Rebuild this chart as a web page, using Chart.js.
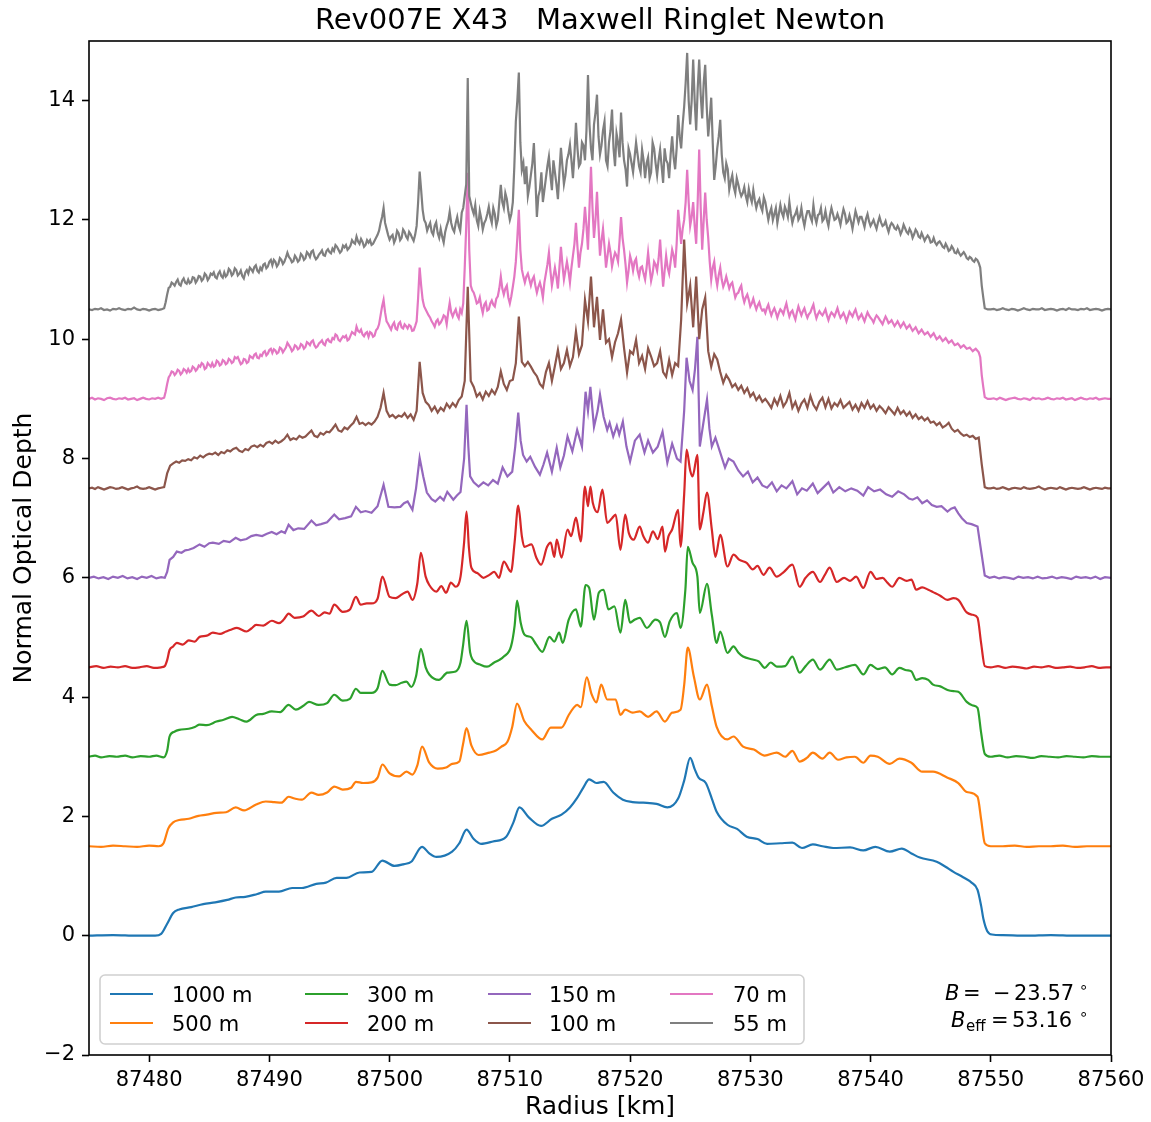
<!DOCTYPE html>
<html><head><meta charset="utf-8">
<script src="https://cdn.jsdelivr.net/npm/chart.js@4.4.0/dist/chart.umd.min.js"></script>
<style>html,body{margin:0;padding:0;background:#fff;}#wrap{width:1151px;height:1122px;}canvas{display:block;}</style>
</head><body><div id="wrap"><canvas id="c" width="1151" height="1122"></canvas></div>
<script>
const FONT = '"DejaVu Sans", sans-serif';
const chartTitle = 'Rev007E X43   Maxwell Ringlet Newton';
const xLabel = 'Radius [km]';
const yLabel = 'Normal Optical Depth';
const xTicks = [87480, 87490, 87500, 87510, 87520, 87530, 87540, 87550, 87560];
const yTicks = [-2, 0, 2, 4, 6, 8, 10, 12, 14];
const resolutions = ['1000 m', '500 m', '300 m', '200 m', '150 m', '100 m', '70 m', '55 m'];
const colors = ['#1f77b4', '#ff7f0e', '#2ca02c', '#d62728', '#9467bd', '#8c564b', '#e377c2', '#7f7f7f'];
const annotB = '23.57';
const annotBeff = '53.16';

// [radius km, tau] pairs
const s1000 = [[87475,0],[87477,0.01],[87479,0],[87480.5,0],[87481,0.03],[87481.5,0.2],[87482,0.38],[87482.5,0.44],[87483.5,0.48],[87484.5,0.53],[87485.5,0.56],[87486.5,0.6],[87487.2,0.64],[87488,0.65],[87489,0.7],[87489.7,0.74],[87490.8,0.74],[87491.9,0.8],[87492.7,0.8],[87493.9,0.87],[87494.7,0.89],[87495.6,0.97],[87496.4,0.97],[87497.5,1.06],[87498.5,1.07],[87499.4,1.26],[87500.4,1.17],[87501.2,1.2],[87501.8,1.24],[87502.7,1.49],[87503.3,1.38],[87503.9,1.32],[87505.2,1.41],[87505.8,1.55],[87506.4,1.78],[87507,1.62],[87507.6,1.54],[87508.6,1.58],[87509.7,1.66],[87510.3,1.9],[87510.8,2.15],[87511.6,1.98],[87512.6,1.84],[87513.5,1.96],[87514.3,2.03],[87515,2.15],[87515.6,2.31],[87516.1,2.48],[87516.6,2.62],[87517.2,2.56],[87517.8,2.58],[87518.6,2.4],[87519.4,2.28],[87520.2,2.24],[87521.1,2.23],[87522.2,2.21],[87523.1,2.15],[87524,2.3],[87524.5,2.6],[87525,2.98],[87525.4,2.78],[87525.7,2.65],[87526.3,2.56],[87526.8,2.3],[87527.2,2.08],[87528.1,1.86],[87528.9,1.79],[87529.7,1.66],[87530.6,1.62],[87531.4,1.54],[87532.5,1.55],[87533.5,1.56],[87534.3,1.47],[87535.2,1.53],[87536,1.5],[87536.9,1.47],[87538.3,1.48],[87539.4,1.43],[87540.4,1.49],[87541.6,1.41],[87542.6,1.46],[87543.4,1.38],[87544.1,1.31],[87545.5,1.24],[87546.2,1.16],[87546.9,1.07],[87547.7,0.98],[87548.4,0.89],[87548.9,0.77],[87549.2,0.5],[87549.4,0.27],[87549.7,0.08],[87550.1,0.02],[87551,0.01],[87553,0],[87555,0.01],[87557,0],[87560,0]];

const s500 = [[87475,1.5],[87476,1.49],[87477,1.51],[87478,1.5],[87479,1.49],[87480,1.51],[87480.8,1.5],[87481.2,1.55],[87481.6,1.8],[87482,1.9],[87482.5,1.94],[87483.3,1.96],[87484.1,2.01],[87484.8,2.03],[87485.6,2.06],[87486.4,2.07],[87487.2,2.15],[87487.9,2.1],[87488.9,2.2],[87489.7,2.25],[87490.4,2.24],[87491,2.23],[87491.6,2.33],[87492.1,2.3],[87492.7,2.28],[87493.5,2.4],[87494.1,2.36],[87494.8,2.4],[87495.4,2.5],[87496.1,2.45],[87496.8,2.48],[87497.2,2.58],[87497.8,2.56],[87498.5,2.57],[87499,2.65],[87499.4,2.87],[87500,2.72],[87500.8,2.67],[87501.4,2.75],[87501.9,2.7],[87502.3,2.85],[87502.7,3.17],[87503.3,2.9],[87504,2.8],[87504.7,2.82],[87505.2,2.88],[87505.8,2.92],[87506.1,3.2],[87506.4,3.48],[87506.8,3.19],[87507.4,3.03],[87508.3,3.07],[87508.8,3.1],[87509.3,3.17],[87509.8,3.25],[87510.2,3.5],[87510.6,3.89],[87511.2,3.6],[87511.8,3.45],[87512.7,3.29],[87513.4,3.49],[87514.3,3.49],[87514.9,3.7],[87515.3,3.82],[87515.6,3.87],[87515.9,3.83],[87516.4,4.33],[87516.8,4.05],[87517.2,3.91],[87517.6,4.21],[87518.1,3.96],[87518.8,3.96],[87519.2,3.7],[87519.6,3.79],[87520.2,3.74],[87520.8,3.76],[87521.5,3.67],[87522.2,3.76],[87522.9,3.59],[87523.5,3.74],[87524.2,3.79],[87524.5,4.2],[87524.8,4.83],[87525.3,4.35],[87525.8,3.96],[87526.4,4.21],[87526.8,3.85],[87527.2,3.5],[87528.1,3.29],[87528.6,3.34],[87529.4,3.17],[87530.3,3.12],[87531.2,3.02],[87532.2,3.07],[87532.9,3],[87533.5,3.1],[87534.1,2.92],[87534.7,2.98],[87535.2,3.07],[87536,2.97],[87536.6,3.07],[87537.3,2.95],[87538,2.99],[87538.7,3],[87539.4,2.9],[87540,3.02],[87540.6,3],[87541.6,2.88],[87542.4,2.97],[87543.4,2.9],[87544.3,2.75],[87545.2,2.75],[87546.4,2.65],[87547.3,2.56],[87548,2.41],[87548.9,2.33],[87549.2,1.95],[87549.5,1.55],[87550,1.5],[87551,1.5],[87552,1.51],[87553,1.49],[87554,1.5],[87555,1.5],[87556,1.51],[87557,1.49],[87558,1.5],[87559,1.5],[87560,1.5]];

const s300 = [[87475,3],[87475.5,3.02],[87476,2.99],[87476.7,3.01],[87477.3,3],[87478,3.02],[87478.6,2.99],[87479.3,3.01],[87480,3],[87480.6,3.02],[87481.2,2.99],[87481.5,3.1],[87481.7,3.34],[87482.1,3.42],[87482.5,3.45],[87483.3,3.47],[87483.8,3.5],[87484.2,3.54],[87484.8,3.53],[87485.6,3.59],[87486.2,3.62],[87486.9,3.67],[87487.5,3.63],[87488.1,3.59],[87488.9,3.7],[87489.5,3.72],[87490.2,3.76],[87490.9,3.75],[87491.6,3.87],[87492.2,3.79],[87492.8,3.85],[87493.3,3.92],[87494.1,3.87],[87494.8,3.9],[87495.4,4.04],[87496.1,3.94],[87496.7,3.97],[87497.2,4.14],[87497.6,4.07],[87498.5,4.07],[87499,4.15],[87499.4,4.44],[87500,4.21],[87500.5,4.2],[87501,4.24],[87501.4,4.26],[87501.8,4.17],[87502.2,4.35],[87502.6,4.81],[87503,4.5],[87503.3,4.38],[87504.1,4.29],[87504.8,4.41],[87505.5,4.43],[87505.9,4.58],[87506.1,4.85],[87506.4,5.28],[87506.7,4.75],[87506.9,4.63],[87507.6,4.54],[87508.1,4.51],[87508.7,4.58],[87509.1,4.62],[87509.5,4.68],[87510.1,4.85],[87510.4,5.2],[87510.6,5.62],[87510.9,5.25],[87511.2,5.05],[87511.5,5.02],[87511.8,5],[87512.2,4.88],[87512.7,4.76],[87513.3,5.01],[87513.7,4.93],[87514.1,5.08],[87514.4,4.91],[87514.9,5.3],[87515.5,5.47],[87515.9,5.18],[87516.3,5.88],[87516.6,5.83],[87517,5.3],[87517.4,5.75],[87517.8,5.8],[87518.2,5.47],[87518.7,5.52],[87519.2,5.08],[87519.6,5.63],[87520,5.25],[87520.4,5.3],[87520.8,5.33],[87521.4,5.16],[87522.1,5.3],[87522.5,5.25],[87522.9,5.01],[87523.3,5.27],[87523.9,5.41],[87524.2,5.16],[87524.6,5.8],[87524.8,6.52],[87525.2,6.25],[87525.6,6.02],[87525.8,5.41],[87526.4,5.9],[87526.8,5.38],[87527.2,4.91],[87527.5,5.1],[87528.1,4.74],[87528.6,4.85],[87529,4.75],[87529.4,4.68],[87530.2,4.63],[87530.7,4.6],[87531.2,4.49],[87531.7,4.58],[87532.2,4.51],[87532.9,4.52],[87533.5,4.68],[87534.1,4.41],[87534.6,4.52],[87535.2,4.63],[87535.8,4.46],[87536.6,4.63],[87537.2,4.46],[87537.9,4.5],[87538.7,4.54],[87539.4,4.38],[87540,4.54],[87540.6,4.47],[87541.2,4.5],[87541.8,4.38],[87542.4,4.49],[87543,4.45],[87543.4,4.43],[87543.8,4.29],[87544.3,4.32],[87544.8,4.29],[87545.2,4.21],[87545.8,4.18],[87546.4,4.12],[87546.9,4.1],[87547.3,4.09],[87548,3.92],[87548.5,3.86],[87548.9,3.82],[87549.2,3.4],[87549.5,3.05],[87550,3],[87550.7,3.02],[87551.4,2.99],[87552.1,3.01],[87552.8,3],[87553.5,2.98],[87554.2,3.01],[87554.9,3],[87555.6,2.99],[87556.3,3.01],[87557,3],[87557.7,2.99],[87558.4,3.01],[87559.1,3],[87560,3]];

const s200 = [[87475,4.5],[87475.6,4.52],[87476.2,4.49],[87476.8,4.51],[87477.4,4.5],[87478,4.52],[87478.6,4.49],[87479.2,4.5],[87479.8,4.52],[87480.4,4.49],[87481,4.5],[87481.3,4.52],[87481.5,4.62],[87481.7,4.79],[87482,4.85],[87482.3,4.91],[87482.8,4.88],[87483.3,4.95],[87483.8,4.93],[87484.2,5.01],[87484.8,5.03],[87485.3,5.08],[87485.9,5.06],[87486.4,5.1],[87486.8,5.13],[87487.3,5.16],[87488.1,5.1],[87488.5,5.15],[87488.9,5.21],[87489.5,5.2],[87490.2,5.28],[87490.8,5.24],[87491.2,5.3],[87491.6,5.4],[87492.1,5.33],[87492.8,5.35],[87493.5,5.45],[87494.1,5.36],[87494.6,5.42],[87495,5.4],[87495.4,5.55],[87496.1,5.43],[87496.7,5.47],[87497.2,5.68],[87497.6,5.55],[87498.1,5.57],[87498.5,5.57],[87499,5.65],[87499.4,6.02],[87500,5.68],[87500.5,5.66],[87501,5.72],[87501.5,5.77],[87501.9,5.63],[87502.3,5.9],[87502.6,6.42],[87503,6.02],[87503.3,5.88],[87503.9,5.77],[87504.3,5.86],[87504.7,5.75],[87505.1,5.92],[87505.5,5.85],[87505.9,6.02],[87506.2,6.6],[87506.4,7.11],[87506.6,6.5],[87506.8,6.17],[87507.3,6.08],[87507.8,6],[87508.3,6.05],[87508.7,6.1],[87509.1,6],[87509.5,6.27],[87510.1,6.1],[87510.4,6.6],[87510.7,7.21],[87511,6.7],[87511.2,6.52],[87511.8,6.56],[87512.2,6.34],[87512.6,6.22],[87513.1,6.52],[87513.4,6.59],[87513.7,6.35],[87513.9,6.64],[87514.3,6.34],[87514.8,6.81],[87515.1,6.7],[87515.5,7.01],[87515.9,6.61],[87516.25,7.53],[87516.5,7.2],[87516.7,7.53],[87516.9,7.26],[87517.3,7.1],[87517.7,7.48],[87518.1,6.92],[87518.5,7],[87518.8,7.06],[87519.2,6.47],[87519.6,7.06],[87519.9,6.75],[87520.3,6.64],[87520.8,6.86],[87521.1,6.7],[87521.5,6.59],[87521.9,6.78],[87522.3,6.65],[87522.7,6.86],[87522.9,6.44],[87523.2,6.7],[87523.5,6.81],[87524,7.14],[87524.2,6.52],[87524.5,7.4],[87524.7,8.15],[87525,7.8],[87525.2,7.7],[87525.6,8.06],[87525.8,6.81],[87526.1,7.1],[87526.4,7.43],[87526.8,6.81],[87527.1,6.35],[87527.5,6.72],[87528.1,6.19],[87528.6,6.39],[87529.1,6.3],[87529.7,6.25],[87530.2,6.14],[87530.6,6.2],[87531.1,6.05],[87531.6,6.17],[87532.2,6.02],[87532.8,6.1],[87533.5,6.22],[87534.1,5.85],[87534.6,6],[87535.2,6.1],[87535.8,5.93],[87536.2,6.05],[87536.6,6.17],[87537.2,5.93],[87537.8,6],[87538.3,5.95],[87538.8,6.02],[87539.4,5.83],[87540,6.1],[87540.5,5.98],[87541,6],[87541.4,5.92],[87541.8,5.85],[87542.4,6],[87543,5.95],[87543.4,5.97],[87543.8,5.8],[87544.3,5.84],[87544.8,5.8],[87545.2,5.76],[87545.8,5.7],[87546.4,5.63],[87546.9,5.66],[87547.3,5.63],[87548,5.42],[87548.5,5.38],[87548.9,5.33],[87549.2,4.9],[87549.5,4.52],[87550,4.5],[87550.6,4.52],[87551.2,4.49],[87551.8,4.51],[87552.4,4.5],[87553,4.48],[87553.6,4.51],[87554.2,4.5],[87554.8,4.52],[87555.4,4.49],[87556,4.5],[87556.6,4.51],[87557.2,4.49],[87557.8,4.5],[87558.4,4.52],[87559,4.49],[87559.6,4.5],[87560,4.5]];

const s150 = [[87475,6],[87475.4,6.02],[87475.8,5.99],[87476.2,6.01],[87476.6,5.98],[87477,6.02],[87477.4,6],[87477.8,6.03],[87478.2,5.99],[87478.6,6.01],[87479,5.98],[87479.4,6.02],[87479.8,6],[87480.2,6.03],[87480.6,5.99],[87481,6.01],[87481.3,6],[87481.5,6.1],[87481.7,6.3],[87482,6.35],[87482.3,6.44],[87482.7,6.42],[87483,6.46],[87483.3,6.47],[87483.7,6.5],[87484.2,6.56],[87484.6,6.52],[87485,6.58],[87485.3,6.59],[87485.8,6.57],[87486.2,6.62],[87486.7,6.6],[87487.2,6.67],[87487.6,6.63],[87488.1,6.65],[87488.5,6.7],[87488.9,6.72],[87489.4,6.7],[87489.8,6.74],[87490.2,6.77],[87490.6,6.73],[87491,6.78],[87491.3,6.75],[87491.6,6.89],[87492,6.8],[87492.4,6.83],[87492.9,6.82],[87493.5,6.96],[87493.9,6.88],[87494.3,6.9],[87494.8,6.93],[87495.4,7.06],[87495.8,6.98],[87496.3,7],[87496.8,7.03],[87497.2,7.19],[87497.6,7.1],[87498,7.12],[87498.5,7.09],[87499,7.2],[87499.5,7.56],[87499.9,7.19],[87500.4,7.18],[87500.9,7.19],[87501.2,7.25],[87501.5,7.28],[87501.9,7.14],[87502.2,7.5],[87502.5,8.01],[87502.8,7.7],[87503.1,7.43],[87503.5,7.32],[87503.8,7.28],[87504.2,7.36],[87504.5,7.3],[87504.8,7.44],[87505.3,7.31],[87505.6,7.38],[87505.9,7.44],[87506.2,8],[87506.4,8.9],[87506.55,8.2],[87506.7,7.7],[87507,7.6],[87507.4,7.53],[87507.8,7.6],[87508.2,7.55],[87508.6,7.64],[87509,7.58],[87509.4,7.85],[87509.8,7.7],[87510.2,7.78],[87510.45,8.2],[87510.7,8.77],[87510.9,8.3],[87511.1,8.06],[87511.4,7.95],[87511.7,8.03],[87512.1,7.86],[87512.5,7.73],[87512.8,7.9],[87513.1,8.1],[87513.5,7.78],[87513.9,8.18],[87514.2,7.85],[87514.5,8.05],[87514.8,8.37],[87515.2,8.12],[87515.6,8.48],[87516,8.2],[87516.3,9.12],[87516.5,8.8],[87516.7,9.2],[87517,8.53],[87517.3,8.8],[87517.5,9.07],[87517.8,8.7],[87518.1,8.48],[87518.3,8.6],[87518.6,8.37],[87518.9,8.55],[87519.1,8.4],[87519.4,8.62],[87519.7,8.2],[87520,7.95],[87520.4,8.3],[87520.8,8.4],[87521.2,8.1],[87521.5,8.3],[87521.9,8.1],[87522.3,8.2],[87522.7,8.45],[87523.1,7.93],[87523.5,8.25],[87523.9,8],[87524.2,7.95],[87524.5,8.8],[87524.7,9.69],[87524.95,9.3],[87525.2,9.15],[87525.4,9.5],[87525.6,10.04],[87525.8,8.2],[87526.1,8.6],[87526.4,8.99],[87526.6,8.5],[87526.8,8.2],[87527.1,8.35],[87527.5,8.1],[87527.9,7.85],[87528.2,8],[87528.6,7.95],[87529,7.8],[87529.4,7.7],[87529.8,7.78],[87530.2,7.6],[87530.6,7.68],[87531,7.55],[87531.4,7.51],[87531.8,7.6],[87532.2,7.45],[87532.6,7.55],[87533,7.5],[87533.5,7.62],[87533.9,7.4],[87534.3,7.5],[87534.7,7.46],[87535.2,7.58],[87535.6,7.42],[87536,7.5],[87536.5,7.6],[87536.9,7.43],[87537.4,7.52],[87537.9,7.45],[87538.4,7.5],[87538.9,7.46],[87539.4,7.38],[87539.8,7.52],[87540.3,7.45],[87540.8,7.48],[87541.3,7.4],[87541.8,7.36],[87542.3,7.45],[87542.8,7.4],[87543.2,7.33],[87543.5,7.31],[87543.9,7.35],[87544.3,7.25],[87544.7,7.3],[87545.1,7.22],[87545.5,7.19],[87545.9,7.2],[87546.4,7.11],[87546.7,7.16],[87547,7.18],[87547.3,7.08],[87547.6,7],[87548,6.92],[87548.4,6.9],[87548.9,6.86],[87549.2,6.45],[87549.5,6.04],[87549.9,6],[87550.3,6.02],[87550.7,5.99],[87551.1,6.01],[87551.5,6],[87551.9,5.98],[87552.3,6.02],[87552.7,6],[87553.1,6.01],[87553.5,5.99],[87553.9,6.02],[87554.3,5.99],[87554.7,6],[87555.1,6.02],[87555.5,5.99],[87555.9,6.01],[87556.3,6],[87556.7,5.98],[87557.1,6.02],[87557.5,6],[87557.9,6.01],[87558.3,5.99],[87558.7,6.02],[87559.1,5.98],[87559.5,6.01],[87560,6]];

// fine radius grid: 87475 .. 87560 every 0.25 km (341 samples)
const fineStart = 87475, fineStep = 0.25;
const tau100 = [
7.5,7.51,7.49,7.52,7.5,7.48,7.5,7.52,7.51,7.49,7.5,7.52,7.5,7.48,7.5,7.51,7.53,7.5,7.49,7.5,7.52,7.5,7.48,7.5,7.51,
7.52,7.75,7.88,7.92, 7.95,7.93,7.97,7.96, 7.99,7.97,8.02,8.0, 8.05,8.02,8.06,8.08, 8.07,8.1,8.06,8.11,
8.09,8.14,8.12,8.16, 8.18,8.13,8.11,8.16, 8.14,8.2,8.22,8.19, 8.23,8.2,8.26,8.28, 8.25,8.3,8.26,8.29,
8.33,8.4,8.31,8.34, 8.32,8.38,8.35,8.37, 8.42,8.47,8.38,8.36, 8.43,8.4,8.45,8.44, 8.5,8.57,8.47,8.45,
8.52,8.49,8.55,8.6, 8.7,8.58,8.6,8.56, 8.6,8.57,8.62,8.7, 8.85,9.1,8.8,8.7, 8.73,8.68,8.72,8.7,
8.76,8.68,8.74,8.65, 8.8,9.62,9.1,8.95, 8.9,8.8,8.87,8.77, 8.85,8.8,8.92,8.85, 8.93,8.87,8.98,9.04,
9.3,10.88,9.3,9.2, 9.04,9.1,8.99,9.12, 9.05,9.15,9.08,9.2, 9.46,9.25,9.15,9.3, 9.32,9.6,10.38,9.62,
9.55,9.62,9.54,9.45, 9.38,9.25,9.19,9.45, 9.6,9.3,9.55,9.82, 9.5,9.6,9.82,9.55, 9.7,10.13,9.75,9.9,
10.66,10.3,11.05,10.2, 10.71,9.99,10.5,9.94, 10.0,9.7,9.95,10.1, 10.33,9.85,9.44,9.8, 9.75,9.99,9.6,9.72,
9.5,9.85,9.71,9.55, 9.6,9.8,9.45,9.37, 9.65,9.4,9.6,9.55, 10.33,11.67,10.6,10.9, 10.2,11.05,10.0,10.5,
10.7,9.8,9.54,9.75, 9.66,9.45,9.27,9.4, 9.32,9.2,9.25,9.15, 9.22,9.1,9.18,9.04, 9.1,8.98,9.05,8.95,
9.0,8.93,8.85,9.0, 8.9,9.05,8.87,8.95, 9.1,8.85,8.95,8.8, 8.92,8.99,8.85,9.05, 8.9,8.82,8.95,9.02,
8.86,9.0,8.84,8.93, 8.88,8.98,8.85,8.9, 8.95,8.82,8.9,8.8, 8.93,8.85,8.96,8.84, 8.9,8.8,8.88,8.83,
8.76,8.86,8.8,8.74, 8.85,8.75,8.8,8.72, 8.78,8.68,8.74,8.66, 8.7,8.64,8.68,8.6, 8.62,8.56,8.6,8.52,
8.55,8.6,8.5,8.45, 8.48,8.42,8.38,8.4, 8.36,8.38,8.33,8.35, 7.9,7.52,7.5,
7.5,7.51,7.49,7.5,7.52,7.5,7.48,7.5,7.51,7.5,7.49,7.52,7.5,7.49,7.5,7.51,7.53,7.5,7.48,7.5,
7.51,7.5,7.49,7.52,7.5,7.48,7.5,7.51,7.5,7.49,7.5,7.52,7.5,7.48,7.5,7.51,7.5,7.49,7.51,7.5,7.5];

const tau70 = [
9.0,9.02,8.99,9.01,9.0,8.98,9.01,9.02,9.0,8.99,9.01,9.0,9.02,8.99,9.0,9.01,8.98,9.0,9.02,9.0,8.99,9.01,9.0,9.02,9.0,
9.02,9.25,9.4,9.45, 9.43,9.47,9.44,9.48, 9.5,9.47,9.52,9.5, 9.54,9.58,9.52,9.57, 9.6,9.56,9.62,9.58,
9.63,9.6,9.65,9.62, 9.68,9.64,9.6,9.66, 9.62,9.7,9.74,9.69, 9.74,9.78,9.73,9.82, 9.77,9.81,9.78,9.84,
9.82,9.94,9.86,9.83, 9.88,9.85,9.9,9.87, 9.93,9.96,9.9,9.88, 9.95,9.92,9.98,9.96, 10.02,10.08,9.99,10.01,
10.03,9.98,10.06,10.1, 10.21,10.12,10.08,10.1, 10.04,10.1,10.06,10.18, 10.4,10.66,10.3,10.21, 10.24,10.18,10.26,10.2,
10.25,10.18,10.22,10.15, 10.3,11.2,10.66,10.5, 10.4,10.3,10.21,10.33, 10.28,10.4,10.25,10.61, 10.38,10.5,10.35,10.44,
11.2,12.79,10.9,10.78, 10.6,10.7,10.44,10.62, 10.5,10.65,10.55,10.72, 11.05,10.75,10.9,10.6, 10.88,11.3,12.17,11.17,
10.95,11.1,10.9,11.05, 10.78,10.95,10.7,11.1, 11.45,10.9,11.2,10.85, 11.55,11.0,11.3,10.95, 11.4,11.95,11.2,11.6,
12.22,11.5,12.89,11.7, 12.47,11.4,11.85,11.2, 11.6,11.22,11.45,11.3, 12.05,11.5,10.95,11.4, 11.15,11.35,11.05,11.22,
11.0,11.45,10.98,11.3, 11.15,11.67,10.88,11.4, 11.1,11.5,11.2,12.17, 11.6,12.0,12.84,11.9, 12.3,11.6,13.18,11.5,
12.46,11.7,11.0,11.3, 10.9,11.2,10.88,11.05, 10.85,10.95,10.7,10.78, 10.9,10.62,10.75,10.55, 10.68,10.5,10.62,10.48,
10.44,10.58,10.4,10.52, 10.36,10.5,10.42,10.6, 10.38,10.48,10.33,10.55, 10.4,10.52,10.36,10.45, 10.58,10.35,10.47,10.4,
10.5,10.32,10.45,10.38, 10.52,10.36,10.44,10.3, 10.46,10.38,10.5,10.34, 10.42,10.3,10.45,10.36, 10.28,10.4,10.33,10.25,
10.38,10.27,10.32,10.22, 10.3,10.2,10.28,10.18, 10.24,10.14,10.2,10.1, 10.16,10.08,10.12,10.04, 10.1,10.0,10.05,9.97,
10.02,9.94,9.98,9.9, 9.93,9.86,9.9,9.84, 9.86,9.8,9.84,9.78, 9.4,9.03,9.0,
9.0,9.01,8.99,9.02,9.0,8.98,9.0,9.01,9.02,9.0,8.99,9.01,9.0,8.98,9.02,9.0,9.01,8.99,9.0,9.02,
9.0,8.99,9.01,9.0,9.02,8.99,9.0,9.01,8.98,9.0,9.02,9.0,8.99,9.01,9.0,9.02,8.99,9.0,9.01,9.0,9.0];

const tau55 = [
10.5,10.49,10.51,10.5,10.52,10.49,10.5,10.48,10.51,10.5,10.52,10.5,10.49,10.51,10.5,10.53,10.5,10.49,10.51,10.5,10.48,10.5,10.51,10.49,10.5,
10.52,10.75,10.88,10.93, 10.96,10.92,10.98,10.95, 11.0,10.96,11.03,10.99, 11.05,11.01,11.07,11.03, 11.08,11.04,11.1,11.06,
11.12,11.08,11.15,11.1, 11.16,11.1,11.06,11.12, 11.1,11.17,11.21,11.15, 11.2,11.25,11.19,11.3, 11.24,11.3,11.26,11.33,
11.3,11.45,11.35,11.31, 11.36,11.33,11.4,11.36, 11.43,11.47,11.39,11.37, 11.45,11.41,11.48,11.46, 11.52,11.58,11.5,11.48,
11.54,11.5,11.57,11.62, 11.72,11.6,11.63,11.58, 11.62,11.58,11.65,11.75, 11.95,12.2,11.85,11.67, 11.75,11.68,11.78,11.7,
11.8,11.68,11.76,11.65, 11.9,12.81,12.17,11.95, 11.89,11.8,11.9,11.78, 11.85,11.62,11.9,12.14, 11.85,11.95,11.9,12.12,
12.4,14.38,12.29,12.1, 12.0,12.15,11.84,12.0, 12.22,11.95,12.1,12.0, 12.59,12.2,12.35,12.0, 12.3,13.65,14.47,12.84,
12.6,12.4,12.75,13.29, 12.05,12.5,12.3,12.7, 13.06,12.5,12.8,12.35, 13.21,12.6,13.0,13.26, 12.7,13.63,12.9,13.3,
13.0,14.43,13.2,13.6, 14.1,13.1,13.5,13.0, 13.3,13.85,12.9,13.3, 13.8,13.0,12.56,13.1, 12.8,13.3,12.9,13.18,
12.7,13.05,12.8,13.2, 12.75,13.18,12.62,13.0, 12.7,13.4,12.85,13.76, 13.2,13.9,14.8,13.6, 14.69,13.5,14.69,13.7,
14.6,13.4,14.05,12.67, 13.2,13.68,12.8,12.95, 12.51,12.75,12.45,12.6, 12.4,12.55,12.3,12.39, 12.5,12.2,12.35,12.15,
12.3,12.0,12.2,12.1, 11.95,12.25,12.05,12.15, 12.3,11.95,12.1,12.0, 12.2,11.9,12.15,12.05, 12.25,11.95,12.1,11.98,
12.15,11.9,12.2,12.0, 12.1,11.92,12.18,11.95, 12.08,11.85,12.15,11.96, 12.05,11.88,12.1,11.9, 12.0,11.85,12.05,11.9,
11.98,11.8,11.95,11.86, 11.9,11.76,11.92,11.8, 11.85,11.7,11.84,11.72, 11.78,11.65,11.74,11.62, 11.7,11.58,11.64,11.55,
11.6,11.48,11.56,11.45, 11.5,11.4,11.46,11.36, 11.38,11.32,11.35,11.28, 10.9,10.52,10.5,
10.5,10.51,10.49,10.5,10.52,10.5,10.49,10.51,10.5,10.48,10.5,10.52,10.5,10.49,10.51,10.5,10.5,10.52,10.49,10.5,
10.51,10.5,10.48,10.5,10.51,10.49,10.52,10.5,10.5,10.49,10.51,10.5,10.52,10.49,10.5,10.51,10.5,10.48,10.5,10.51,10.5];

// extra in-between samples for the finest profiles: 87481.375 .. 87549.375 every 0.25 km (273 samples)
const halfStart = 87481.375;
const tau70mid = [
9.12,9.36,9.46,9.4, 9.49,9.41,9.5,9.44, 9.45,9.54,9.47,9.56, 9.6,9.5,9.6,9.54, 9.54,9.64,9.56,9.65,
9.58,9.67,9.6,9.7, 9.7,9.58,9.67,9.6, 9.72,9.68,9.76,9.68, 9.72,9.8,9.76,9.84, 9.83,9.76,9.86,9.78,
9.86,9.9,9.8,9.9, 9.83,9.92,9.84,9.95, 9.9,9.98,9.86,9.93, 9.98,9.9,10.0,9.95, 10.0,10.06,9.97,10.05,
10.06,10.0,10.12,10.08, 10.14,10.16,10.05,10.12, 10.12,10.04,10.15,10.25, 10.55,10.45,10.26,10.16,
10.28,10.16,10.29,10.18, 10.22,10.24,10.14,10.22, 10.7,10.9,10.55,10.45, 10.36,10.26,10.3,10.25,
10.33,10.38,10.45,10.45, 10.45,10.4,10.5,10.6, 11.9,11.5,10.82,10.7, 10.62,10.55,10.58,10.48,
10.6,10.58,10.68,10.85, 10.85,10.85,10.7,10.72, 11.05,11.7,11.5,11.05, 11.05,11.0,11.0,10.9,
10.88,10.85,10.95,11.25, 11.15,11.05,11.05,11.2, 11.25,11.15,11.15,11.2, 11.6,11.55,11.45,11.85,
11.9,12.2,12.2,12.0, 11.9,11.65,11.55,11.4, 11.45,11.35,11.4,11.65, 11.7,11.25,11.15,11.3,
11.3,11.15,11.2,11.1, 11.2,11.2,11.1,11.25, 11.35,11.25,11.15,11.2, 11.3,11.4,11.6,11.9,
11.85,12.3,12.3,12.05, 11.9,12.3,12.2,12.0, 12.0,11.3,11.2,11.05, 11.08,11.0,10.95,10.95,
10.92,10.82,10.76,10.85, 10.72,10.7,10.66,10.6, 10.58,10.57,10.53,10.5, 10.52,10.48,10.47,10.45,
10.44,10.47,10.52,10.48, 10.45,10.4,10.45,10.47, 10.47,10.43,10.42,10.52, 10.45,10.42,10.43,10.45,
10.4,10.4,10.42,10.45, 10.43,10.4,10.38,10.38, 10.42,10.45,10.41,10.38, 10.36,10.38,10.4,10.33,
10.35,10.37,10.29,10.32, 10.33,10.29,10.27,10.26, 10.25,10.24,10.23,10.21, 10.19,10.17,10.15,10.13,
10.12,10.1,10.08,10.07, 10.05,10.02,10.01,9.99, 9.98,9.96,9.94,9.91, 9.9,9.88,9.87,9.85,
9.83,9.82,9.81,9.7, 9.2];

const tau55mid = [
10.62,10.86,10.95,10.9, 11.0,10.9,11.02,10.93, 10.94,11.04,10.95,11.06, 10.98,11.1,10.99,11.1, 11.12,11.02,11.14,11.03,
11.05,11.18,11.07,11.19, 11.07,11.15,11.02,11.16, 11.2,11.13,11.24,11.12, 11.16,11.27,11.22,11.33, 11.33,11.22,11.36,11.26,
11.37,11.38,11.29,11.4, 11.3,11.43,11.33,11.46, 11.38,11.49,11.34,11.42, 11.49,11.4,11.51,11.44, 11.48,11.55,11.45,11.57,
11.58,11.53,11.66,11.6, 11.64,11.68,11.55,11.66, 11.66,11.6,11.7,11.82, 12.05,11.95,11.75,11.72,
11.62,11.82,11.66,11.84, 11.72,11.8,11.7,11.75, 12.3,12.5,12.0,11.82, 11.95,11.75,11.96,11.7,
11.72,11.8,11.98,11.95, 11.8,12.05,11.82,12.2, 12.6,12.4,12.18,12.25, 11.9,12.02,11.95,12.1,
12.05,12.2,11.9,12.3, 12.3,12.45,12.15,12.1, 12.9,14.0,13.3,12.95, 12.9,12.55,12.95,12.7,
12.4,12.8,12.5,12.9, 12.75,13.0,12.6,12.8, 12.9,12.75,13.1,13.0, 13.1,13.2,12.95,13.25,
13.5,13.6,13.0,13.8, 13.4,13.25,13.65,12.9, 13.5,13.2,13.45,13.05, 13.3,12.85,13.2,12.95,
13.05,13.1,12.8,13.0, 12.95,12.7,13.3,12.95, 13.0,12.9,13.2,12.95, 13.1,13.05,13.2,13.4,
13.6,14.3,14.0,14.0, 14.0,14.2,14.1,14.3, 13.9,13.7,13.3,12.9, 13.4,13.1,12.7,12.85,
12.65,12.55,12.7,12.48, 12.45,12.4,12.52,12.3, 12.33,12.3,12.22,12.38, 12.15,12.12,12.0,12.2,
12.1,12.12,12.22,12.05, 12.1,12.05,12.18,12.05, 12.02,12.05,12.15,11.98, 12.05,12.08,12.2,12.02,
12.0,12.08,12.1,12.02, 12.02,12.06,12.1,11.98, 11.98,12.0,12.06,12.05, 11.97,12.02,11.98,11.95,
11.92,11.96,11.96,11.92, 11.88,11.9,11.92,11.84, 11.85,11.82,11.86,11.77, 11.8,11.76,11.8,11.7,
11.72,11.7,11.7,11.63, 11.62,11.62,11.6,11.53, 11.55,11.5,11.52,11.44, 11.44,11.43,11.42,11.34,
11.36,11.3,11.33,11.2, 10.7];

function pairsToPoints(p) { return p.map(function (q) { return { x: q[0], y: q[1] }; }); }
function gridToPoints(vals, start) { return vals.map(function (v, i) { return { x: start + i * fineStep, y: v }; }); }
function merged(a, b) { return gridToPoints(a, fineStart).concat(gridToPoints(b, halfStart)).sort(function (p, q) { return p.x - q.x; }); }

const seriesPoints = [
  pairsToPoints(s1000), pairsToPoints(s500), pairsToPoints(s300), pairsToPoints(s200),
  pairsToPoints(s150), gridToPoints(tau100, fineStart), merged(tau70, tau70mid), merged(tau55, tau55mid)
];
const smoothMode = [true, true, true, true, false, false, false, false];

const datasets = seriesPoints.map(function (pts, i) {
  return {
    label: resolutions[i], data: pts, borderColor: colors[i], backgroundColor: colors[i],
    borderWidth: 2.2, pointRadius: 0, fill: false, order: 7 - i,
    tension: 0, cubicInterpolationMode: smoothMode[i] ? 'monotone' : 'default'
  };
});

function fmtY(v) { return v < 0 ? '\u2212' + Math.abs(v) : String(v); }

const decor = {
  id: 'decor',
  afterDatasetsDraw: function (chart) {
    const ctx = chart.ctx, a = chart.chartArea;
    ctx.save();
    ctx.strokeStyle = '#000'; ctx.lineWidth = 1.6;
    ctx.strokeRect(a.left, a.top, a.right - a.left, a.bottom - a.top);
    ctx.restore();
  },
  afterDraw: function (chart) {
    const ctx = chart.ctx, a = chart.chartArea;
    ctx.save();
    ctx.fillStyle = '#000';
    ctx.font = '29px ' + FONT; ctx.textAlign = 'center'; ctx.textBaseline = 'alphabetic';
    ctx.fillText(chartTitle, (a.left + a.right) / 2, 29);
    ctx.font = '25px ' + FONT;
    ctx.fillText(xLabel, (a.left + a.right) / 2, 1114);
    ctx.save();
    ctx.translate(31, (a.top + a.bottom) / 2); ctx.rotate(-Math.PI / 2);
    ctx.fillText(yLabel, 0, 0);
    ctx.restore();

    const L = { left: 100, top: 975, right: 804, bottom: 1044, r: 5 };
    ctx.beginPath();
    ctx.moveTo(L.left + L.r, L.top);
    ctx.arcTo(L.right, L.top, L.right, L.bottom, L.r);
    ctx.arcTo(L.right, L.bottom, L.left, L.bottom, L.r);
    ctx.arcTo(L.left, L.bottom, L.left, L.top, L.r);
    ctx.arcTo(L.left, L.top, L.right, L.top, L.r);
    ctx.closePath();
    ctx.fillStyle = 'rgba(255,255,255,0.8)'; ctx.fill();
    ctx.strokeStyle = '#d0d0d0'; ctx.lineWidth = 1.6; ctx.stroke();
    const lineX = [110, 305, 488, 670], textX = [172, 367, 549, 733], rowY = [994, 1023];
    ctx.font = '21px ' + FONT; ctx.textAlign = 'left'; ctx.textBaseline = 'alphabetic';
    for (let i = 0; i < datasets.length; i++) {
      const col = Math.floor(i / 2), row = i % 2, y = rowY[row];
      ctx.strokeStyle = datasets[i].borderColor; ctx.lineWidth = 2.2;
      ctx.beginPath(); ctx.moveTo(lineX[col], y); ctx.lineTo(lineX[col] + 43, y); ctx.stroke();
      ctx.fillStyle = '#000';
      ctx.fillText(datasets[i].label, textX[col], y + 8);
    }

    ctx.fillStyle = '#000';
    ctx.font = 'italic 21px ' + FONT; ctx.fillText('B', 945, 1000);
    ctx.font = '21px ' + FONT;
    ctx.fillText('=', 963, 1000);
    ctx.fillText('\u2212', 993, 1000);
    ctx.fillText(annotB, 1014, 1000);
    ctx.font = '15px ' + FONT; ctx.fillText('\u2218', 1079, 992);
    ctx.font = 'italic 21px ' + FONT; ctx.fillText('B', 951, 1027);
    ctx.font = '15px ' + FONT; ctx.fillText('eff', 966, 1031);
    ctx.font = '21px ' + FONT;
    ctx.fillText('=', 991, 1027);
    ctx.fillText(annotBeff, 1012, 1027);
    ctx.font = '15px ' + FONT; ctx.fillText('\u2218', 1079, 1019);
    ctx.restore();
  }
};

new Chart(document.getElementById('c'), {
  type: 'line',
  data: { datasets: datasets },
  options: {
    responsive: false, animation: false, devicePixelRatio: 1,
    layout: { padding: { left: 0, right: 40, top: 41, bottom: 0 } },
    plugins: { legend: { display: false }, title: { display: false }, tooltip: { enabled: false } },
    scales: {
      x: {
        type: 'linear', min: 87475, max: 87560,
        afterFit: function (s) { s.height = 67; },
        afterBuildTicks: function (s) { s.ticks = xTicks.map(function (v) { return { value: v }; }); },
        ticks: { callback: function (v) { return String(v); }, font: { family: FONT, size: 21 }, color: '#000', padding: 6, maxRotation: 0, autoSkip: false },
        grid: { display: true, drawOnChartArea: false, drawTicks: true, tickLength: 7, tickWidth: 1.6, tickColor: '#000' },
        border: { display: false }
      },
      y: {
        type: 'linear', min: -2, max: 15,
        afterFit: function (s) { s.width = 89; },
        afterBuildTicks: function (s) { s.ticks = yTicks.map(function (v) { return { value: v }; }); },
        ticks: { callback: fmtY, font: { family: FONT, size: 21 }, color: '#000', padding: 7, autoSkip: false },
        grid: { display: true, drawOnChartArea: false, drawTicks: true, tickLength: 7, tickWidth: 1.6, tickColor: '#000' },
        border: { display: false }
      }
    }
  },
  plugins: [decor]
});
</script></body></html>
